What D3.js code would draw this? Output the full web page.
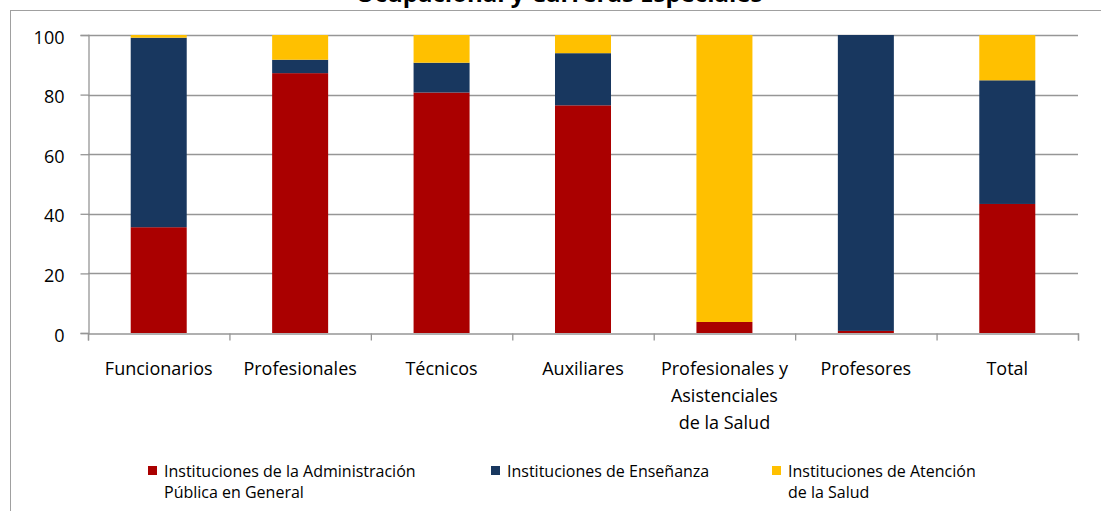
<!DOCTYPE html>
<html>
<head>
<meta charset="utf-8">
<script src="https://cdn.jsdelivr.net/npm/d3@7"></script>
<style>
  html, body { margin: 0; padding: 0; background: #fff; overflow: hidden; }
  svg { display: block; font-family: "Open Sans", "DejaVu Sans", sans-serif; }
</style>
</head>
<body>
<svg id="chart"></svg>
<script>
// data (percent of each category)
const title = "Ocupacional y Carreras Especiales";
const categories = ["Funcionarios", "Profesionales", "Técnicos", "Auxiliares",
  "Profesionales y|Asistenciales|de la Salud", "Profesores", "Total"];
const seriesNames = ["Instituciones de la Administración|Pública en General",
  "Instituciones de Enseñanza", "Instituciones de Atención|de la Salud"];
const adminPublica = [35.5, 87.2, 80.7, 76.4, 3.7, 0.7, 43.3];
const ensenanza = [63.6, 4.5, 10.0, 17.5, 0.0, 99.3, 41.5];
const atencionSalud = [0.9, 8.3, 9.3, 6.1, 96.3, 0.0, 15.2];
const yTicks = [0, 20, 40, 60, 80, 100];
const colors = ["#aa0000", "#18375f", "#ffc000"];

const w = 1101, h = 511;
const plotLeft = 88, plotRight = 1078, plotTop = 35, plotBottom = 333;

const svg = d3.select("#chart").attr("width", w).attr("height", h);

// outer frame of the chart (runs off the right and bottom edges)
svg.append("rect")
  .attr("x", 10.5).attr("y", 10.5)
  .attr("width", 1300).attr("height", 700)
  .attr("fill", "none").attr("stroke", "#a0a0a0");

// title, mostly cut off at the top like in the source picture
svg.append("text")
  .attr("x", 559).attr("y", 1.5)
  .attr("text-anchor", "middle")
  .style("font-weight", "bold").style("font-size", "24px")
  .text(title);

// stacking
const rows = categories.map((c, i) => ({cat: c, s0: adminPublica[i], s1: ensenanza[i], s2: atencionSalud[i]}));
const stacked = d3.stack().keys(["s0", "s1", "s2"])(rows);

const x = d3.scaleBand().domain(categories).range([plotLeft, plotRight])
  .paddingInner(0.604).paddingOuter(0.302);
const y = d3.scaleLinear().domain([0, 100]).range([plotBottom, plotTop]);
const xEdge = d3.scaleLinear().domain([0, categories.length]).range([plotLeft, plotRight]);

// horizontal gridlines
svg.append("g").selectAll("line")
  .data(yTicks.filter(d => d > 0))
  .enter().append("line")
  .attr("x1", plotLeft).attr("x2", plotRight)
  .attr("y1", d => Math.round(y(d)) + 0.5).attr("y2", d => Math.round(y(d)) + 0.5)
  .attr("stroke", "#969696").attr("stroke-width", 1.3);

// bars
svg.append("g").selectAll("g")
  .data(stacked)
  .enter().append("g")
  .attr("fill", (d, i) => colors[i])
  .selectAll("rect")
  .data(d => d)
  .enter().append("rect")
  .attr("x", d => x(d.data.cat))
  .attr("width", x.bandwidth())
  .attr("y", d => y(d[1]))
  .attr("height", d => y(d[0]) - y(d[1]));

// y axis
const axisY = svg.append("g")
  .attr("transform", `translate(${plotLeft + 0.5},0)`)
  .call(d3.axisLeft(y).tickValues(yTicks).tickSize(8).tickPadding(16).tickFormat(d3.format("d")));
axisY.select(".domain").attr("stroke", "#969696").attr("stroke-width", 1.3);
axisY.selectAll(".tick line").attr("stroke", "#969696").attr("stroke-width", 1.3);
axisY.selectAll(".tick text")
  .attr("dy", "0.45em")
  .style("font-size", "18px").style("font-family", "'Open Sans', sans-serif").attr("fill", "#000");

// x axis: ticks at category boundaries
const axisX = svg.append("g")
  .attr("transform", `translate(0,${plotBottom + 0.5})`)
  .call(d3.axisBottom(xEdge).tickValues(d3.range(categories.length + 1)).tickSize(7).tickFormat(""));
axisX.select(".domain").attr("stroke", "#969696").attr("stroke-width", 1.3);
axisX.selectAll(".tick line").attr("stroke", "#969696").attr("stroke-width", 1.3);

// category labels
const catLabels = svg.append("g").selectAll("text")
  .data(categories)
  .enter().append("text")
  .attr("x", d => x(d) + x.bandwidth() / 2)
  .attr("y", 375)
  .attr("text-anchor", "middle")
  .style("font-size", "18px");
catLabels.selectAll("tspan")
  .data(d => d.split("|"))
  .enter().append("tspan")
  .attr("x", function() { return this.parentNode.getAttribute("x"); })
  .attr("dy", (d, i) => i === 0 ? 0 : 27)
  .text(d => d);

// legend
const legendX = [148, 491, 772];
const legend = svg.append("g").selectAll("g")
  .data(seriesNames)
  .enter().append("g")
  .attr("transform", (d, i) => `translate(${legendX[i]},466)`);
legend.append("rect")
  .attr("width", 9).attr("height", 9)
  .attr("fill", (d, i) => colors[i]);
const legendText = legend.append("text")
  .attr("x", 16).attr("y", 11)
  .style("font-size", "16px");
legendText.selectAll("tspan")
  .data(d => d.split("|"))
  .enter().append("tspan")
  .attr("x", 16)
  .attr("dy", (d, i) => i === 0 ? 0 : 21)
  .text(d => d);
</script>
</body>
</html>
